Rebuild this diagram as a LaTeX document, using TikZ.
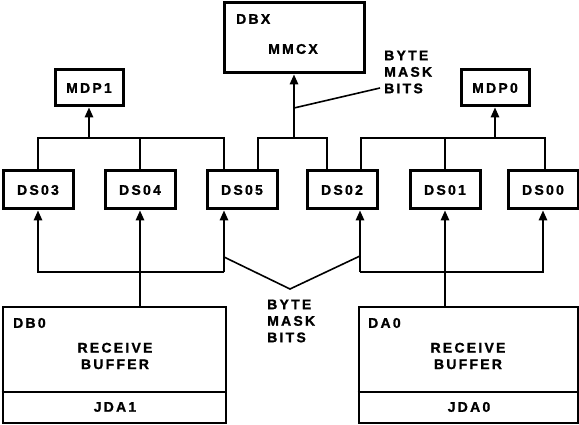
\documentclass[tikz,border=0pt]{standalone}
\usepackage{fontspec}
\setmainfont{Liberation Sans}[LetterSpace=16,FakeBold=1.2]
\usetikzlibrary{arrows.meta}
\begin{document}
\begin{tikzpicture}[x=1pt,y=-1pt,
  box/.style={draw, line width=3pt, inner sep=0pt, font=\fontsize{14}{16}\selectfont\bfseries},
  dsbox/.style={box, minimum width=70pt, minimum height=38pt},
  mdpbox/.style={box, minimum width=68pt, minimum height=36pt},
  bufbox/.style={box, line width=2.6pt, minimum height=116pt},
  conn/.style={line width=1.6pt},
  arr/.style={conn, -{Triangle[width=8.5pt,length=10pt]}},
  lbl/.style={font=\fontsize{14}{16.5}\selectfont\bfseries, inner sep=0pt}]
\useasboundingbox (0,0) rectangle (579,425);
% top boxes
\node[box, minimum width=140pt, minimum height=70pt] (dbx) at (294,38) {};
\node[lbl, anchor=west] (dbxname) at (236,19) {DBX};
\node[lbl] (mmcx) at (293,49) {MMCX};
\node[mdpbox] (mdp1) at (89,88) {MDP1};
\node[mdpbox] (mdp0) at (495,88) {MDP0};
% DS boxes
\node[dsbox] (ds03) at (38,190) {DS03};
\node[dsbox] (ds04) at (140,190) {DS04};
\node[dsbox] (ds05) at (242,190) {DS05};
\node[dsbox] (ds02) at (342,190) {DS02};
\node[dsbox] (ds01) at (445,190) {DS01};
\node[dsbox] (ds00) at (543,190) {DS00};
% buffers
\node[bufbox, minimum width=223pt] (db0) at (114.5,365) {};
\node[bufbox, minimum width=219pt] (da0) at (468.5,365) {};
\coordinate (div) at (0,392);
\draw[line width=2.2pt] (db0.west |- div) -- (db0.east |- div);
\draw[line width=2.2pt] (da0.west |- div) -- (da0.east |- div);
\node[lbl, anchor=west] (db0name) at (13,323) {DB0};
\node[lbl, align=center] (db0txt) at (115,356) {RECEIVE\\BUFFER};
\node[lbl] (jda1) at (115,407) {JDA1};
\node[lbl, anchor=west] (da0name) at (368,323) {DA0};
\node[lbl, align=center] (da0txt) at (468,356) {RECEIVE\\BUFFER};
\node[lbl] (jda0) at (469,407) {JDA0};
% labels
\node[lbl, align=left, anchor=west] (bmtop) at (384,72) {BYTE\\MASK\\BITS};
\node[lbl, align=left, anchor=west] (bmbot) at (267,321) {BYTE\\MASK\\BITS};
% top buses
\coordinate (t1) at (224,138);
\coordinate (t2) at (258,138);
\coordinate (t3) at (327,138);
\coordinate (t4) at (361,138);
\coordinate (t5) at (545,138);
\draw[conn] (ds03.north) |- (t1) -- (t1 |- ds05.north);
\draw[conn] (ds04.north) -- (ds04.north |- t1);
\draw[arr] (mdp1.south |- t1) -- (mdp1.south);
\draw[conn] (t2 |- ds05.north) -- (t2) -- (t3) -- (t3 |- ds02.north);
\draw[arr] (dbx.south |- t2) -- (dbx.south);
\draw[conn] (t4 |- ds02.north) -- (t4) -- (t5) -- (t5 |- ds00.north);
\draw[conn] (ds01.north) -- (ds01.north |- t4);
\draw[arr] (mdp0.south |- t4) -- (mdp0.south);
\coordinate (bm1a) at (0,108);
\coordinate (bm1b) at (380,88);
\draw[conn] (dbx.south |- bm1a) -- (bm1b);
% bottom buses
\coordinate (b1) at (224,272);
\coordinate (b2) at (360,272);
\draw[arr] (b1) -| (ds03.south);
\draw[arr] (b1) -- (b1 |- ds05.south);
\draw[arr] (ds04.south |- db0.north) -- (ds04.south);
\draw[arr] (b2) -- (b2 |- ds02.south);
\draw[arr] (b2) -| (ds00.south);
\draw[arr] (ds01.south |- da0.north) -- (ds01.south);
\coordinate (b3) at (224,257);
\coordinate (b4) at (290,289);
\coordinate (b5) at (360,256);
\draw[conn] (b3) -- (b4) -- (b5);
\end{tikzpicture}
\end{document}
